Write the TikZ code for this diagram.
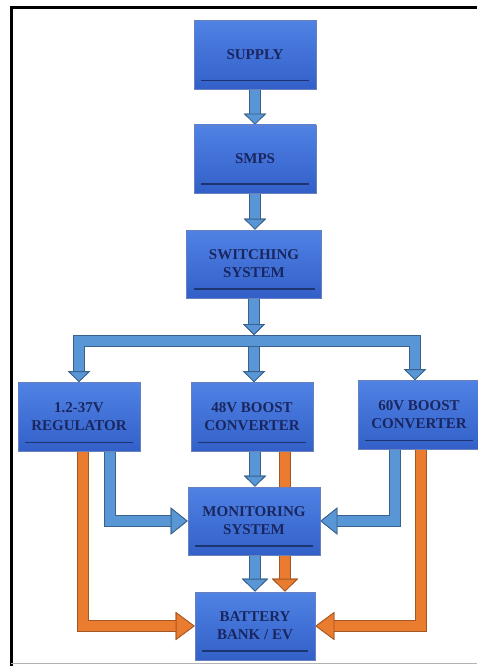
\documentclass[tikz,border=0pt]{standalone}
\usepackage{fontspec}
\setmainfont{Liberation Serif}
\usetikzlibrary{positioning, calc, arrows.meta, backgrounds}
\definecolor{boxtop}{RGB}{80,130,228}
\definecolor{boxbot}{RGB}{50,96,200}
\definecolor{boxedge}{RGB}{40,74,160}
\definecolor{txt}{RGB}{26,38,96}
\definecolor{arrblue}{RGB}{88,150,214}
\definecolor{arrorange}{RGB}{234,124,48}
\tikzstyle{blk}=[rectangle, draw=boxedge!70, line width=0.6pt, top color=boxtop, bottom color=boxbot, text=txt, align=center, font=\fontsize{15}{18}\selectfont\bfseries, inner sep=0pt,
  path picture={\draw[boxedge!70!black, line width=1.2pt] ($(path picture bounding box.south west)+(7,-9)$) -- ($(path picture bounding box.south east)+(-7,-9)$);}]
\tikzstyle{barr}=[draw=arrblue, line width=10pt, preaction={draw=arrblue!65!black, line width=11.6pt},
  -{Triangle[width=22pt,length=11pt,fill=arrblue,color=arrblue!65!black,line width=0.8pt]}]
\tikzstyle{bbig}=[barr, -{Triangle[width=26pt,length=13pt,fill=arrblue,color=arrblue!65!black,line width=0.8pt]}]
\tikzstyle{bside}=[barr, -{Triangle[width=27pt,length=17pt,fill=arrblue,color=arrblue!65!black,line width=0.8pt]}]
\tikzstyle{oarr}=[draw=arrorange, line width=10.5pt, preaction={draw=arrorange!70!black, line width=12pt},
  -{Triangle[width=28pt,length=19pt,fill=arrorange,color=arrorange!70!black,line width=0.8pt]}]
\tikzstyle{obig}=[oarr, -{Triangle[width=26pt,length=13pt,fill=arrorange,color=arrorange!70!black,line width=0.8pt]}]

\begin{document}
\begin{tikzpicture}[x=1pt, y=-1pt]
	\useasboundingbox (0,0) rectangle (477,666);
	% blocks
	\node[blk, minimum width=122, minimum height=69] (sup) at (255,55) {SUPPLY};
	\node[blk, minimum width=122, minimum height=68] (smps) at (255,159) {SMPS};
	\node[blk, minimum width=135, minimum height=68] (sw) at (254,264) {SWITCHING\\SYSTEM};
	\node[blk, minimum width=122, minimum height=69] (reg) at (79,417) {1.2-37V\\REGULATOR};
	\node[blk, minimum width=122, minimum height=69] (b48) at (252,417) {48V BOOST\\CONVERTER};
	\node[blk, minimum width=122, minimum height=69] (b60) at (419,415) {60V BOOST\\CONVERTER};
	\node[blk, minimum width=132, minimum height=68] (mon) at (254,521) {MONITORING\\SYSTEM};
	\node[blk, minimum width=120, minimum height=68] (bat) at (255,626) {BATTERY\\BANK / EV};
	\coordinate (bus) at (254,341);
	% connectors
	\begin{scope}[on background layer]
	\draw[barr] (sup) -- (smps);
	\draw[barr] (smps) -- (smps |- sw.north);
	\draw[barr] (sw) -- ($(bus)+(0,-6)$);
	\draw[barr, line join=miter] (bus) -| (reg.north);
	\draw[barr, line join=miter] (bus) -| ($(b60.north)+(-4,0)$);
	\draw[barr] ($(bus)+(0,5.8)$) -- (bus |- b48.north);
	\draw[bside, line join=miter] ($(reg.south)+(31,0)$) |- (mon.west);
	\draw[oarr, line join=miter] ($(reg.south)+(4,0)$) |- (bat.west);
	\draw[bside, line join=miter] ($(b60.south)+(-24,0)$) |- (mon.east);
	\draw[oarr, line join=miter] ($(b60.south)+(2,0)$) |- (bat.east);
	\draw[barr] ($(b48.south)+(3,0)$) coordinate (c48) -- (c48 |- mon.north);
	\draw[obig] ($(b48.south)+(33,0)$) coordinate (o48) -- (o48 |- bat.north);
	\draw[bbig] ($(mon.south)+(1,0)$) coordinate (cm) -- (cm |- bat.north);
	\end{scope}
	% frame
	\draw[line width=3.5pt] (11.5,666) -- (11.5,7.5) -- (477,7.5);
	\draw[gray!60, line width=1pt] (11,663.5) -- (477,663.5);
\end{tikzpicture}
\end{document}
